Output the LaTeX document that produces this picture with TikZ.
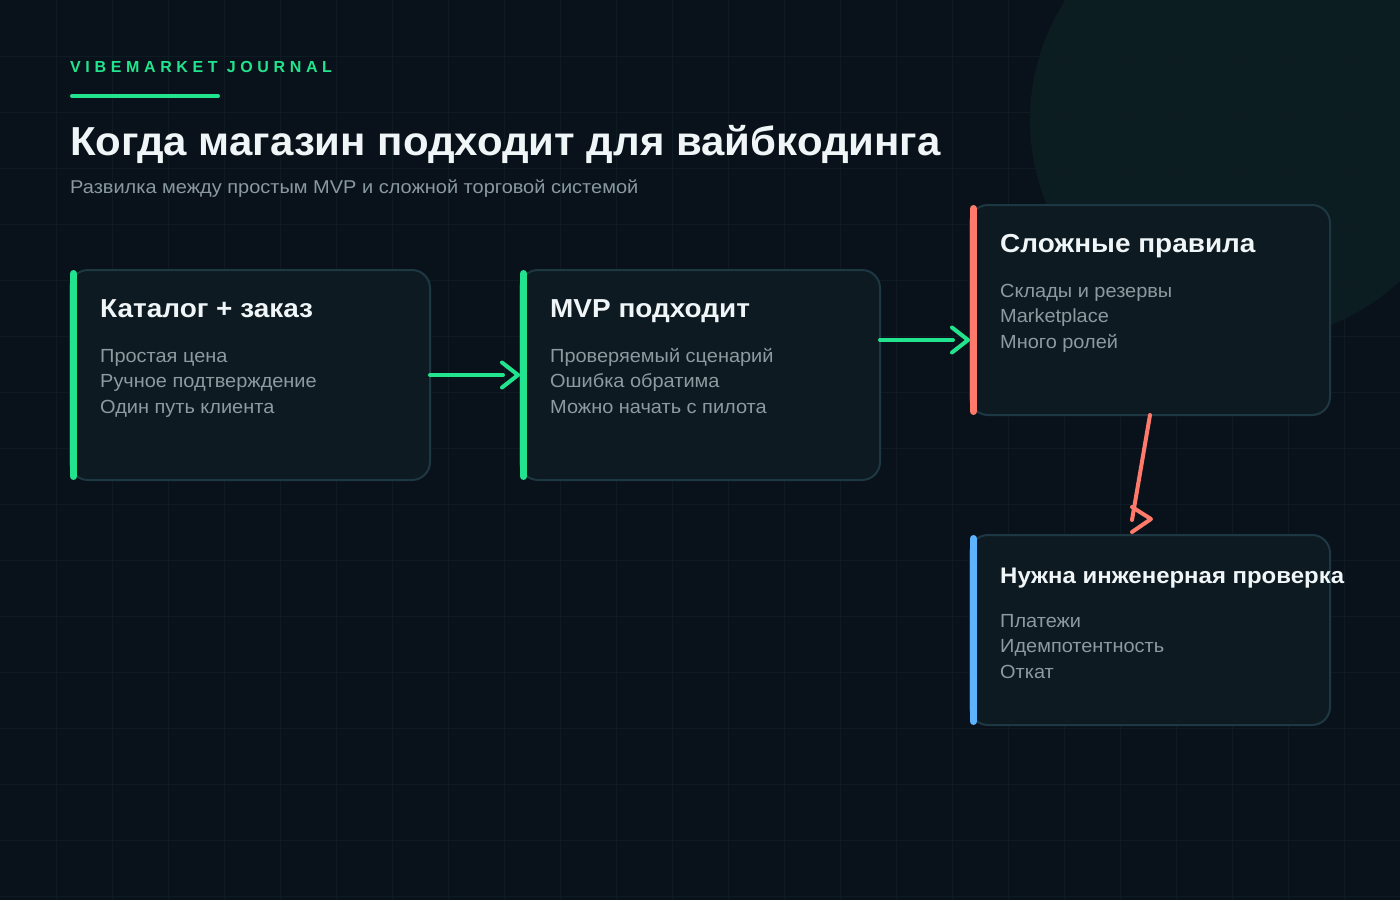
\documentclass[tikz,border=0pt]{standalone}
\usepackage{fontspec}
\setmainfont{Liberation Sans}
\usetikzlibrary{calc}
\definecolor{bg}{HTML}{09121A}
\definecolor{gridc}{HTML}{0E1B22}
\definecolor{circc}{HTML}{0C1D21}
\definecolor{boxfill}{HTML}{0D1A21}
\definecolor{boxline}{HTML}{1E3843}
\definecolor{accgreen}{HTML}{22E48E}
\definecolor{accred}{HTML}{FF7A6A}
\definecolor{accblue}{HTML}{5CB3FF}
\definecolor{titlec}{HTML}{F0F5F7}
\definecolor{bodyc}{HTML}{8D9BA1}
\definecolor{subc}{HTML}{8A99A0}
\tikzset{
  box/.style={draw=boxline, fill=boxfill, line width=2pt, rounded corners=18pt,
    minimum width=360pt, inner sep=0pt, outer sep=0pt, anchor=north west},
  accentbar/.style={line width=7pt, line cap=round},
  ttl/.style={text=titlec, font=\fontsize{26}{30}\selectfont\bfseries\addfontfeature{FakeStretch=1.075}, anchor=base west, inner sep=0pt},
  bodyt/.style={text=bodyc, font=\fontsize{19}{22}\selectfont\addfontfeature{FakeStretch=1.05}, anchor=base west, inner sep=0pt},
  conn/.style={line width=4pt, line cap=round, line join=round},
}
\begin{document}
\begin{tikzpicture}[x=1pt,y=-1pt]
\useasboundingbox (0,0) rectangle (1400,900);
\begin{scope}
\clip (0,0) rectangle (1400,900);
\fill[bg] (0,0) rectangle (1400,900);
\fill[circc] (1250,120) circle[radius=220];
\foreach \i in {56,112,...,1400} {\draw[gridc, line width=1pt] (\i,0) -- (\i,900);}
\foreach \j in {56,112,...,900} {\draw[gridc, line width=1pt] (0,\j) -- (1400,\j);}
\end{scope}

% header
\node[anchor=base west, inner sep=0pt, text=accgreen, font=\fontsize{16}{20}\selectfont\bfseries\addfontfeature{LetterSpace=29}] (brand) at (70,72) {VIBEMARKET JOURNAL};
\coordinate (ul1) at (72,96);
\coordinate (ul2) at (218,96);
\draw[accgreen, line width=4pt, line cap=round] (ul1) -- (ul2);
\node[anchor=base west, inner sep=0pt, text=titlec, font=\fontsize{40.5}{46}\selectfont\bfseries\addfontfeature{FakeStretch=1.036}] (title) at (70,155) {Когда магазин подходит для вайбкодинга};
\node[anchor=base west, inner sep=0pt, text=subc, font=\fontsize{18.5}{22}\selectfont\addfontfeature{FakeStretch=1.08}] (subtitle) at (70,193) {Развилка между простым MVP и сложной торговой системой};

% boxes
\node[box, minimum height=210pt] (b1) at (70,270) {};
\node[box, minimum height=210pt] (b2) at (520,270) {};
\node[box, minimum height=210pt] (b3) at (970,205) {};
\node[box, minimum height=190pt] (b4) at (970,535) {};

\draw[accgreen, accentbar] ($(b1.north west)+(3.5,3.5)$) -- ($(b1.south west)+(3.5,-3.5)$);
\draw[accgreen, accentbar] ($(b2.north west)+(3.5,3.5)$) -- ($(b2.south west)+(3.5,-3.5)$);
\draw[accred, accentbar] ($(b3.north west)+(3.5,3.5)$) -- ($(b3.south west)+(3.5,-3.5)$);
\draw[accblue, accentbar] ($(b4.north west)+(3.5,3.5)$) -- ($(b4.south west)+(3.5,-3.5)$);

% box 1
\node[ttl] (t1) at ($(b1.north west)+(30,47)$) {Каталог + заказ};
\node[bodyt] (t1a) at ($(b1.north west)+(30,92)$) {Простая цена};
\node[bodyt] (t1b) at ($(b1.north west)+(30,117.5)$) {Ручное подтверждение};
\node[bodyt] (t1c) at ($(b1.north west)+(30,143)$) {Один путь клиента};
% box 2
\node[ttl] (t2) at ($(b2.north west)+(30,47)$) {MVP подходит};
\node[bodyt] (t2a) at ($(b2.north west)+(30,92)$) {Проверяемый сценарий};
\node[bodyt] (t2b) at ($(b2.north west)+(30,117.5)$) {Ошибка обратима};
\node[bodyt] (t2c) at ($(b2.north west)+(30,143)$) {Можно начать с пилота};
% box 3
\node[ttl] (t3) at ($(b3.north west)+(30,47)$) {Сложные правила};
\node[bodyt] (t3a) at ($(b3.north west)+(30,92)$) {Склады и резервы};
\node[bodyt] (t3b) at ($(b3.north west)+(30,117.5)$) {Marketplace};
\node[bodyt] (t3c) at ($(b3.north west)+(30,143)$) {Много ролей};
% box 4
\node[ttl, font=\fontsize{22.5}{26}\selectfont\bfseries\addfontfeature{FakeStretch=1.065}] (t4) at ($(b4.north west)+(30,48)$) {Нужна инженерная проверка};
\node[bodyt] (t4a) at ($(b4.north west)+(30,92)$) {Платежи};
\node[bodyt] (t4b) at ($(b4.north west)+(30,117.5)$) {Идемпотентность};
\node[bodyt] (t4c) at ($(b4.north west)+(30,143)$) {Откат};

% connectors
\draw[accgreen, conn] (b1.east) -- ($(b2.west)+(-17,0)$);
\draw[accgreen, conn] ($(b2.west)+(-18,-12.5)$) -- ($(b2.west)+(-2,0)$) -- ($(b2.west)+(-18,12.5)$);

\draw[accgreen, conn] ($(b2.east)+(0,-35)$) -- ($(b3.west)+(-17,30)$);
\draw[accgreen, conn] ($(b3.west)+(-18,17.5)$) -- ($(b3.west)+(-2,30)$) -- ($(b3.west)+(-18,42.5)$);

\draw[accred, conn] (b3.south) -- ($(b4.north)+(-18,-15)$);
\draw[accred, conn] ($(b4.north)+(-18,-28)$) -- ($(b4.north)+(1,-16)$) -- ($(b4.north)+(-18,-3)$);
\end{tikzpicture}
\end{document}
